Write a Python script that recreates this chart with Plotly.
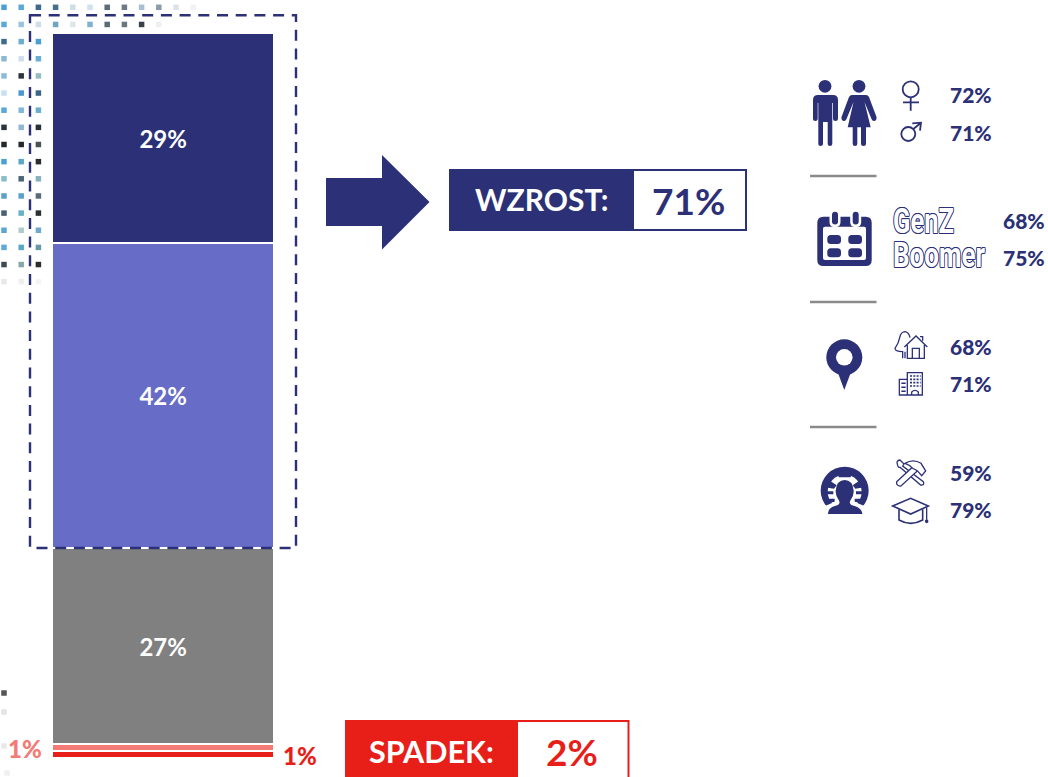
import re
import plotly.graph_objects as go

# ---------- data ----------
bar_category = ["Odpowiedzi"]
share_names = ["Duży spadek", "Mały spadek", "Bez zmian", "Mały wzrost", "Duży wzrost"]
share_values = [1, 1, 27, 42, 29]
share_colors = ["#e81e19", "#f47a76", "#808080", "#676cc6", "#2b3077"]
share_labels = ["", "", "27%", "42%", "29%"]
wzrost_label = "WZROST:"
wzrost_value = "71%"
spadek_label = "SPADEK:"
spadek_value = "2%"
gender_values = ["72%", "71%"]
age_names = ["GenZ", "Boomer"]
age_values = ["68%", "75%"]
place_values = ["68%", "71%"]
education_values = ["59%", "79%"]
low_left_label = "1%"
low_right_label = "1%"

dot_rows = [
    ["#4a9fd8","#5aa8d8","#3f6a8f","#47708c","#cfdde6","#cfe2ee","#5b6b78","#6d7a85","#a8c0d0","#8a9ca8","#dde3e6","#f0f3f5"],
    ["#5aa8d8","#98c4de","#cfdcea","#6fa5c4","#dfe6ea","#7fb2d0","#5a6b78","#6a7680","#3a4148","#eef0f2"],
    ["#3f6a8f","#6aaed0","#4a9fd8"],
    ["#8cb8d4","#cfe0ec","#6aaed8"],
    ["#8cbcdc","#2b333b","#98bcc4"],
    ["#c8e0f0","#4a98d0","#3f6585"],
    ["#5aa8d8","#80b8dc","#6aaed0"],
    ["#2a3440","#90b8d0","#2a3038"],
    ["#23282d","#23282d","#4a5258"],
    ["#4aa0d0","#5aa8c8","#2a2e33"],
    ["#8cbccc","#4a6578","#88b0c0"],
    ["#5a9fc8","#5aa0cc","#5a6b78"],
    ["#4a6070","#6ab0c8","#2c3034"],
    ["#5aa8d0","#b0ccc8","#70a8d0"],
    ["#60a8d8","#5aa8c8","#6a98a8"],
    ["#3a4a58","#88a8a8","#2a2e30"],
    ["#e8e8e8","#eeeeee","#f5f5f5"],
]
faint_dot_colors = ["#555555", "#e4e4e4", "#e8e8e8", "#f0f0f0"]

NAVY = "#2b3077"
RED = "#e81e19"
FONT = "Lato"

# ---------- figure ----------
W, H = 1048, 777
Y0, Y100 = 759.3, 33.6
BAR_L, BAR_W = 52.6, 222
ppu = (Y0 - Y100) / 100

fig = go.Figure()
for name, val, col, lab in zip(share_names, share_values, share_colors, share_labels):
    fig.add_bar(
        x=bar_category, y=[val], name=name, width=1,
        marker=dict(color=col, line=dict(color="white", width=1.6)),
        text=[lab], textposition="inside", textangle=0, insidetextanchor="middle",
        insidetextfont=dict(family=FONT, size=24, color="white", weight=700),
        hoverinfo="skip", showlegend=False,
    )

# dotted texture
dx, dy = [], []
dc = []
for r, row in enumerate(dot_rows):
    for c, col in enumerate(row):
        dx.append(4 + 17.2 * c)
        dy.append(7.3 + 17.15 * r)
        dc.append(col)
for (px, py), col in zip([(4, 693), (4, 712), (4, 746), (7, 773)], faint_dot_colors):
    dx.append(px); dy.append(py); dc.append(col)
fig.add_scatter(x=dx, y=dy, mode="markers", xaxis="x2", yaxis="y2",
                marker=dict(symbol="square", size=5.5, color=dc, line=dict(width=0)),
                hoverinfo="skip", showlegend=False)

shapes = []
def zoomed(path, ox, oy):
    """Path written in 3x-crop coordinates -> page pixel coordinates."""
    nums = iter(range(10**6))
    def rep(m):
        i = next(nums)
        v = float(m.group(0)) / 3
        return f"{v + (ox if i % 2 == 0 else oy):.2f}"
    return re.sub(r"-?\d+(?:\.\d+)?", rep, path)
def add(path, fill=NAVY, line=None, lw=0, dash=None):
    shapes.append(dict(type="path", path=path, xref="x2", yref="y2", layer="above",
                       fillcolor=fill, line=dict(color=line or "rgba(0,0,0,0)", width=lw, dash=dash)))
def rrect(x0, y0, x1, y1, r):
    return (f"M{x0+r} {y0} L{x1-r} {y0} Q{x1} {y0} {x1} {y0+r} L{x1} {y1-r} Q{x1} {y1} {x1-r} {y1} "
            f"L{x0+r} {y1} Q{x0} {y1} {x0} {y1-r} L{x0} {y0+r} Q{x0} {y0} {x0+r} {y0} Z")
def circle(cx, cy, r, **kw):
    shapes.append(dict(type="circle", x0=cx-r, x1=cx+r, y0=cy-r, y1=cy+r, xref="x2", yref="y2", layer="above",
                       fillcolor=kw.get("fill", NAVY), line=dict(color=kw.get("line", "rgba(0,0,0,0)"), width=kw.get("lw", 0))))
def rect(x0, y0, x1, y1, fill=NAVY, line=None, lw=0, dash=None):
    shapes.append(dict(type="rect", x0=x0, x1=x1, y0=y0, y1=y1, xref="x2", yref="y2", layer="above",
                       fillcolor=fill, line=dict(color=line or "rgba(0,0,0,0)", width=lw, dash=dash)))
OUT = dict(fill="white", line=NAVY, lw=1.3)
OPEN = dict(fill="rgba(0,0,0,0)", line=NAVY, lw=1.3)

# dashed frame
rect(30, 15.3, 296, 548, fill="rgba(0,0,0,0)", line=NAVY, lw=2.4, dash="11px,7.7px")

# arrow
add("M326 178 L382 178 L382 155 L429.5 202 L382 249.5 L382 226 L326 226 Z")

# WZROST box
rect(450, 170, 746, 230, fill="white", line=NAVY, lw=2)
rect(449.5, 169.5, 634, 230.5)
# SPADEK box
rect(346, 721, 628.5, 790, fill="white", line=RED, lw=2)
rect(345.5, 720, 518, 790, fill=RED)

# separators
for yy in (176, 302, 427):
    rect(810, yy-1.2, 876.5, yy+1.2, fill="#8a8a8a")

# people
circle(825, 86.3, 6.4)
add("M813 100 Q813 95 818 95 L833 95 Q838 95 838 100 L838 119 Q838 121 835.5 121 Q833 121 833 119 L833 103 "
    "L832.3 103 L832.3 144 Q832.3 146 830 146 Q827.7 146 827.7 144 L827.7 122 L823 122 L823 144 Q823 146 820.6 146 "
    "Q818.3 146 818.3 144 L818.3 103 L817.7 103 L817.7 119 Q817.7 121 815.3 121 Q813 121 813 119 Z")
circle(859, 86.3, 6.4)
add("M852 95 L866 95 Q868 95 869 97 L876.5 117 Q877 120 874.5 121 Q872.5 121.5 871.5 119 L864.5 102 L870.7 127.3 "
    "L866 127.3 L866 144 Q866 146 863.5 146 Q861 146 861 144 L861 127.3 L857.3 127.3 L857.3 144 Q857.3 146 855 146 "
    "Q852.7 146 852.7 144 L852.7 127.3 L847.7 127.3 L853.5 102 L846.5 119 Q845.5 121.5 843.5 121 Q841 120 841.5 117 L849 97 Q850 95 852 95 Z")
# female / male symbols
circle(910.7, 89.3, 8, fill="rgba(0,0,0,0)", line=NAVY, lw=1.8)
add("M910.7 97.3 L910.7 110.7 M903 102.3 L919 102.3", fill="rgba(0,0,0,0)", line=NAVY, lw=1.8)
circle(908.3, 134, 7, fill="rgba(0,0,0,0)", line=NAVY, lw=1.8)
add("M913.3 129 L921 122.7 M912.3 123.3 L921 122.7 L920 130.7", fill="rgba(0,0,0,0)", line=NAVY, lw=1.8)

# calendar
add(rrect(817.3, 216.7, 871.7, 266, 6))
add(rrect(823, 226.7, 866, 260, 2), fill="white")
for rx in (835, 855.7):
    add(rrect(rx-5.5, 209, rx+5.5, 227, 5), fill="white")
    add(rrect(rx-3, 211.7, rx+3, 224.5, 3))
for x0 in (827.3, 848.3):
    for y0 in (235, 248.3):
        add(rrect(x0, y0, x0+13.7, y0+9, 3.5))

# pin
circle(844.3, 357.3, 18)
add("M838 373 L850.6 373 L844.3 390 Z")
circle(844.3, 357.3, 8.3, fill="white")

# house + tree
O, P = 790, 300
add(zoomed("M338 175 L338 155 Q315 155 315 145 Q326 130 329 113 Q333 95 345 95 Q357 97 360 113", O, P), **OPEN)
add(zoomed("M345 175 L345 155", O, P), **OPEN)
add(zoomed("M352 135 L352 175 L403 175 L403 135 M343 141 L378 108 L412 141 M367 175 L367 145 L388 145 L388 175 M398 122 L398 110 L390 110", O, P), **OPEN)
# building
add(zoomed("M352 218 L397 218 L397 285 L352 285 Z M352 238 L328 238 L328 285 L352 285 M365 285 L365 276 Q375 266 385 276 L385 285", O, P), **OPEN)
add(zoomed("M334 250 L347 250 M334 262 L347 262 M334 274 L347 274", O, P), fill="rgba(0,0,0,0)", line=NAVY, lw=1.5)
add(zoomed("M360 228 L392 228 M360 238 L392 238 M360 248 L392 248 M360 258 L392 258", O, P), fill="rgba(0,0,0,0)", line=NAVY, lw=1.6, dash="2px,1.3px")

# worker icon
O, P = 810, 450
circle(810+104/3, 450+122/3, 24)
circle(810+104/3, 450+125/3, 17, fill="white")
add(zoomed("M60 92 L80 106 L72 116 L45 112 Z M148 92 L128 106 L136 116 L163 112 Z M82 62 L126 62 L122 82 L86 82 Z", O, P))
add(zoomed("M45 124 L70 124 L70 133 L45 133 Z M138 124 L163 124 L163 133 L138 133 Z M52 146 L74 146 L74 155 L60 158 Z M156 146 L134 146 L134 155 L148 158 Z", O, P))
add(zoomed("M40 178 L168 178 L168 200 L40 200 Z M45 168 L75 155 L133 155 L163 168 L168 180 L40 180 Z", O, P), fill="white")
add(zoomed("M54 192 Q52 172 84 165 Q92 160 86 150 Q76 135 77 122 Q80 90 104 90 Q128 90 131 122 Q132 135 122 150 Q116 160 124 165 Q156 172 157 192 Z", O, P))

# tools + cap
O, P = 790, 300
add(zoomed("M322 492 Q318 482 330 480 L342 492 L338 498 L400 545 Q405 556 392 555 L330 502 Q324 504 322 492 Z", O, P), **OUT)
add(zoomed("M320 545 L372 497 L385 510 L333 558 Q325 560 320 552 Z", O, P), **OUT)
add(zoomed("M345 490 Q370 475 393 490 L407 513 L395 527 L382 512 L368 505 Q360 495 345 490 Z", O, P), **OUT)
add(zoomed("M327 628 L327 660 Q362 680 398 660 L398 628", O, P), fill="rgba(0,0,0,0)", line=NAVY, lw=1.6)
add(zoomed("M308 618 L362 595 L415 618 L362 642 Z", O, P), fill="white", line=NAVY, lw=1.6)
add(zoomed("M410 622 L410 660", O, P), fill="rgba(0,0,0,0)", line=NAVY, lw=1.3)
circle(790+410/3, 300+664/3, 1.8)

# ---------- text ----------
anns = []
def txt(x, y, s, size, color=NAVY, anchor="left", weight=700, **font):
    anns.append(dict(x=x, y=y, text=s, xref="x2", yref="y2", showarrow=False, xanchor=anchor, yanchor="middle",
                     font=dict(family=font.pop("family", FONT), size=size, color=color, weight=weight, **font)))
PCT = 21
txt(473, 199, wzrost_label, 30, "white")
txt(688.5, 200.5, wzrost_value, 37)
anns[-1]["xanchor"] = "center"
txt(367, 751, spadek_label, 30.5, "white")
txt(572, 751.5, spadek_value, 37, RED, anchor="center")
txt(947.5, 94.5, gender_values[0], PCT, weight=900)
txt(947.5, 132, gender_values[1], PCT, weight=900)
txt(1000.5, 220.5, age_values[0], PCT, weight=900)
txt(1000.5, 257, age_values[1], PCT, weight=900)
txt(947.5, 346.5, place_values[0], PCT, weight=900)
txt(947.5, 383.5, place_values[1], PCT, weight=900)
txt(947.5, 472.5, education_values[0], PCT, weight=900)
txt(947.5, 509.5, education_values[1], PCT, weight=900)
txt(6, 748, low_left_label, 24, "#f47a76", weight=900)
txt(281, 755.5, low_right_label, 24, RED, weight=900)
OUTLINE = ",".join(f"{a}px {b}px 0 {NAVY}" for a, b in [(0.8,0),(-0.8,0),(0,0.8),(0,-0.8),(0.6,0.6),(-0.6,0.6),(0.6,-0.6),(-0.6,-0.6)])
txt(891, 221, age_names[0], 35, "white", family="Roboto", shadow=OUTLINE)
txt(891, 255.5, age_names[1], 35, "white", family="Roboto", shadow=OUTLINE)

fig.update_layout(
    width=W, height=H, autosize=False,
    margin=dict(l=0, r=0, t=0, b=0),
    paper_bgcolor="white", plot_bgcolor="white",
    barmode="stack", bargap=0,
    showlegend=False,
    font=dict(family=FONT),
    xaxis=dict(type="category", visible=False, fixedrange=True,
               range=[-0.5 - BAR_L / BAR_W, -0.5 + (W - BAR_L) / BAR_W]),
    yaxis=dict(visible=False, fixedrange=True,
               range=[-(H - Y0) / ppu, 100 + Y100 / ppu]),
    xaxis2=dict(overlaying="x", visible=False, range=[0, W], fixedrange=True, anchor="y2"),
    yaxis2=dict(overlaying="y", visible=False, range=[H, 0], fixedrange=True, anchor="x2"),
    shapes=shapes, annotations=anns,
)
# the original's condensed display face is not installed: narrow the real text to its width
squeeze = """
document.body.style.margin='0';document.documentElement.style.overflow='hidden';
var targets={'GenZ':61,'Boomer':92};
document.querySelectorAll('.annotation-text').forEach(function(t){
  var w=targets[t.textContent];
  if(w){var k=w/t.getComputedTextLength();
    t.style.transformBox='fill-box';t.style.transformOrigin='0 50%';t.style.transform='scaleX('+k+')';}
});
"""
fig.write_html("out.html", config=dict(displayModeBar=False), post_script=squeeze)
